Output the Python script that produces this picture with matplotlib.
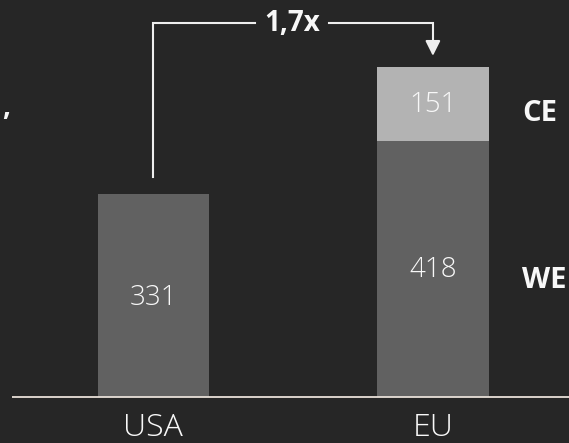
import matplotlib.pyplot as plt

# data
categories = ['USA', 'EU']
usa_total = [331]
eu_we = [418]
eu_ce = [151]
eu_ce_shown = [119]   # the CE block is drawn shorter than its value in the original
ratio_label = '1,7x'
side_labels = ['CE', 'WE']

bg = '#262626'
dark = '#616161'
light = '#b3b3b3'
white = '#f8f8f8'

fig = plt.figure(figsize=(5.69, 4.43), dpi=100)
fig.patch.set_facecolor(bg)
ax = fig.add_axes([0, 0, 1, 1])
ax.set_facecolor(bg)
ax.set_xlim(-0.549, 1.487)
ax.set_ylim(-75, 647)
ax.axis('off')

w = 0.4
ax.bar([0], usa_total, width=w, color=dark)
ax.bar([1], eu_we, width=w, color=dark)
ax.bar([1], eu_ce_shown, bottom=eu_we, width=w, color=light)

num_font = dict(family='Open Sans', weight='light', size=20, color=white,
                ha='center', va='center')
ax.text(0, usa_total[0] / 2 - 4, str(usa_total[0]), **num_font)
ax.text(1, eu_we[0] / 2 - 2, str(eu_we[0]), **num_font)
ax.text(1, eu_we[0] + eu_ce_shown[0] / 2 - 1, str(eu_ce[0]), **num_font)

# baseline
ax.plot([-0.506, 1.487], [0, 0], color='#e8e0d8', lw=1.3, solid_capstyle='butt')

# category labels
for i, c in enumerate(categories):
    ax.text(i, -50, c, family='Open Sans', weight='light', size=23, color=white,
            ha='center', va='center')

# ratio bracket
top_y = 610
start_y = usa_total[0] + 28
end_y = eu_we[0] + eu_ce_shown[0] + 19
lc = '#eeeeee'
ax.plot([0, 0, 0.365], [start_y, top_y, top_y], color=lc, lw=1.5,
        solid_joinstyle='miter')
ax.plot([0.627, 1, 1], [top_y, top_y, end_y + 20], color=lc, lw=1.5,
        solid_joinstyle='miter')
ax.annotate('', xy=(1, end_y), xytext=(1, end_y + 25),
            arrowprops=dict(arrowstyle='-|>,head_length=0.9,head_width=0.45',
                            color=lc, lw=1.5, shrinkA=0, shrinkB=0))
ax.text(0.496, top_y - 2, ratio_label, family='Open Sans', weight='bold', size=20,
        color=white, ha='center', va='center')

# side labels (cut at right edge)
ax.text(1.318, 462, side_labels[0], family='Open Sans', weight='bold', size=21,
        color=white, ha='left', va='center')
ax.text(1.318, 190, side_labels[1], family='Open Sans', weight='bold', size=21,
        color=white, ha='left', va='center')
# fragment of a cut-off text on the left
ax.text(-0.54, 472, ',', family='Open Sans', weight='bold', size=20, color=white,
        ha='left', va='center')

fig.savefig('out.png', dpi=100, facecolor=bg)
